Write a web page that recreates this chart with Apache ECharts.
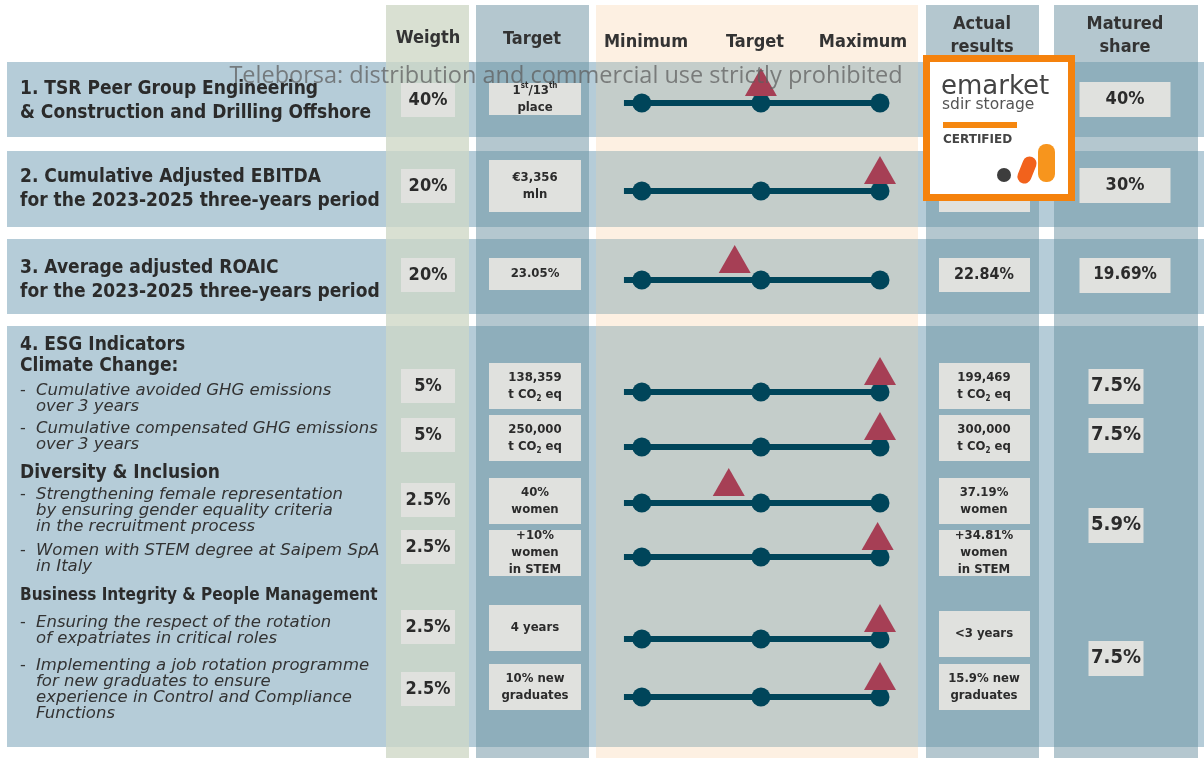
<!DOCTYPE html>
<html>
<head>
<meta charset="utf-8">
<script src="https://cdn.jsdelivr.net/npm/echarts@6/dist/echarts.min.js"></script>
<style>
html, body { margin: 0; padding: 0; background: #fff; }
#main { width: 1204px; height: 758px; }
</style>
</head>
<body>
<div id="main"></div>
<script>
// ---- dati ----
var kpiTitles = [
    ['1. TSR Peer Group Engineering', '& Construction and Drilling Offshore'],
    ['2. Cumulative Adjusted EBITDA', 'for the 2023-2025 three-years period'],
    ['3. Average adjusted ROAIC', 'for the 2023-2025 three-years period']
];
var esgTitle = '4. ESG Indicators';
var esgGroups = ['Climate Change:', 'Diversity & Inclusion', 'Business Integrity & People Management'];
var esgItems = [
    ['Cumulative avoided GHG emissions', 'over 3 years'],
    ['Cumulative compensated GHG emissions', 'over 3 years'],
    ['Strengthening female representation', 'by ensuring gender equality criteria', 'in the recruitment process'],
    ['Women with STEM degree at Saipem SpA', 'in Italy'],
    ['Ensuring the respect of the rotation', 'of expatriates in critical roles'],
    ['Implementing a job rotation programme', 'for new graduates to ensure', 'experience in Control and Compliance', 'Functions']
];
var headers = ['Weigth', 'Target', 'Minimum', 'Target', 'Maximum', 'Actual\nresults', 'Matured\nshare'];
var weights = ['40%', '20%', '20%', '5%', '5%', '2.5%', '2.5%', '2.5%', '2.5%'];
var targets = ['{n|1}{s|st}{n|/13}{s|th}\n{n|place}', '€3,356\nmln', '23.05%', '{n|138,359}\n{n|t CO}{b|2}{n| eq}',
    '{n|250,000}\n{n|t CO}{b|2}{n| eq}', '40%\nwomen', '+10%\nwomen\nin STEM', '4 years', '10% new\ngraduates'];
var actuals = ['', '', '22.84%', '{n|199,469}\n{n|t CO}{b|2}{n| eq}', '{n|300,000}\n{n|t CO}{b|2}{n| eq}',
    '37.19%\nwomen', '+34.81%\nwomen\nin STEM', '<3 years', '15.9% new\ngraduates'];
var matured = ['40%', '30%', '19.69%', '7.5%', '7.5%', '5.9%', '7.5%'];
// 0 = minimum, 1 = target, 2 = maximum
var scalePoints = [0, 1, 2];
var achieved = [1, 2, 0.78, 2, 2, 0.73, 1.98, 2, 2];

// ---- layout ----
var W = 1204, H = 758;
var rowBands = [[62, 137], [151, 227], [239, 314], [326, 747]];
var cols = [
    { x0: 386, x1: 469, out: '#d9e0d2', inn: '#c8d5cb' },
    { x0: 476, x1: 589, out: '#b4c7cf', inn: '#8eaebb' },
    { x0: 596, x1: 918, out: '#fdf0e2', inn: '#c4cdca' },
    { x0: 926, x1: 1039, out: '#b4c7cf', inn: '#8fafbc' },
    { x0: 1054, x1: 1198, out: '#b4c7cf', inn: '#8fafbc' }
];
var rowY = [103, 191, 280, 392, 447, 503, 557, 639, 697];
var weightBoxY = [100, 186, 275, 386, 435, 500, 547, 627, 689];
var targetBox = [[99, 32], [186, 52], [274, 32], [386, 46], [438, 46], [501, 46], [553, 46], [628, 46], [687, 46]];
var actualBox = [[99, 32], [186, 52], [275, 34], [386, 46], [438, 46], [501, 46], [553, 46], [634, 46], [687, 46]];
var maturedBox = [[1125, 99, 91, 18], [1125, 185, 91, 18], [1125, 275, 91, 17], [1116, 386, 55, 20], [1116, 435, 55, 20], [1116, 525, 55, 20], [1116, 658, 55, 20]];
var titleY = [89, 177, 268];
var groupY = [366, 473, 596];
var itemY = [391, 429, 495, 551, 623, 666];
var headerPos = [[428, 38], [532, 39], [646, 42], [755, 42], [863, 42], [982, 36], [1125, 36]];

var TXT = '#2b2b2b';
var FONT = 'DejaVu Sans Condensed, DejaVu Sans, sans-serif';
var BOX = '#e0e1de';

function rect(x, y, w, h, fill, z) {
    return { type: 'rect', silent: true, z: z || 0, shape: { x: x, y: y, width: w, height: h }, style: { fill: fill } };
}
function text(x, y, str, size, opts) {
    opts = opts || {};
    var st = {
        text: str, fill: opts.fill || TXT, fontSize: size, fontFamily: opts.family || FONT,
        fontWeight: opts.weight || 'bold', fontStyle: opts.style || 'normal',
        align: opts.align || 'left', textAlign: opts.align || 'left',
        verticalAlign: 'middle', textVerticalAlign: 'middle',
        lineHeight: opts.lh || size + 2
    };
    if (opts.rich) st.rich = opts.rich;
    return { type: 'text', silent: true, z: opts.z || 2, x: x, y: y, style: st };
}
function boxRich(size) {
    return {
        n: { fontSize: size, fontWeight: 'bold', fontFamily: FONT, fill: TXT, lineHeight: size + 4 },
        s: { fontSize: 8, fontWeight: 'bold', fontFamily: FONT, fill: TXT, lineHeight: size + 4, verticalAlign: 'top' },
        b: { fontSize: 8, fontWeight: 'bold', fontFamily: FONT, fill: TXT, lineHeight: 8, verticalAlign: 'bottom' }
    };
}

var g = [];
// fasce delle righe
rowBands.forEach(function (b) { g.push(rect(7, b[0], W - 7, b[1] - b[0], '#b5ccd8', 0)); });
// colonne
cols.forEach(function (c) {
    g.push(rect(c.x0, 5, c.x1 - c.x0, H - 5, c.out, 0));
    rowBands.forEach(function (b) { g.push(rect(c.x0, b[0], c.x1 - c.x0, b[1] - b[0], c.inn, 1)); });
});
// intestazioni
headers.forEach(function (h, i) {
    g.push(text(headerPos[i][0], headerPos[i][1], h, 18, { align: 'center', lh: 23, fill: '#333' }));
});
// etichette a sinistra
kpiTitles.forEach(function (t, i) {
    t.forEach(function (line, j) { g.push(text(20, titleY[i] + j * 24, line, 19)); });
});
g.push(text(20, 345, esgTitle, 19));
esgGroups.forEach(function (t, i) { g.push(text(20, groupY[i], t, i < 2 ? 19 : 17)); });
esgItems.forEach(function (it, i) {
    g.push(text(20, itemY[i], '-', 16, { weight: 'normal', fill: '#333', family: 'DejaVu Sans, sans-serif' }));
    it.forEach(function (line, j) {
        g.push(text(36, itemY[i] + j * 16, line, 16.5,
            { weight: 'normal', style: 'italic', fill: '#333', family: 'DejaVu Sans, sans-serif' }));
    });
});
// box pesi
weights.forEach(function (w, i) {
    g.push(rect(401, weightBoxY[i] - 17, 54, 34, BOX, 2));
    g.push(text(428, weightBoxY[i], w, 18, { align: 'center', z: 3 }));
});
// box target e risultati
targets.forEach(function (t, i) {
    var b = targetBox[i];
    g.push(rect(489, b[0] - b[1] / 2, 92, b[1], BOX, 2));
    g.push(text(535, b[0], t, 13, { align: 'center', z: 3, lh: 17, rich: boxRich(13) }));
});
actuals.forEach(function (t, i) {
    var b = actualBox[i];
    var size = i < 3 ? 16 : 13;
    g.push(rect(939, b[0] - b[1] / 2, 91, b[1], BOX, 2));
    g.push(text(984, b[0], t, size, { align: 'center', z: 3, lh: 17, rich: boxRich(13) }));
});
matured.forEach(function (m, i) {
    var b = maturedBox[i];
    g.push(rect(b[0] - b[2] / 2, b[1] - 17, b[2], 35, BOX, 2));
    g.push(text(b[0], b[1], m, b[3], { align: 'center', z: 3 }));
});
// logo
g.push(rect(923, 55, 152, 146, '#f5820d', 20));
g.push(rect(930, 62, 138, 132, '#ffffff', 21));
g.push(text(941, 87, 'emarket', 26, { weight: 'normal', family: 'DejaVu Sans, sans-serif', fill: '#444', z: 22 }));
g.push(text(942, 105, 'sdir storage', 15.5, { weight: 'normal', family: 'DejaVu Sans, sans-serif', fill: '#555', z: 22 }));
g.push(rect(943, 122, 74, 6, '#f5870f', 22));
g.push(text(943, 140, 'CERTIFIED', 12, { family: 'DejaVu Sans, sans-serif', fill: '#444', z: 22 }));
g.push({ type: 'circle', silent: true, z: 22, shape: { cx: 1004, cy: 175, r: 7 }, style: { fill: '#3d3d3d' } });
g.push({ type: 'rect', silent: true, z: 22, x: 1027, y: 170, rotation: -0.38, shape: { x: -7, y: -14, width: 14, height: 28, r: 7 }, style: { fill: '#f2621c' } });
g.push({ type: 'rect', silent: true, z: 22, shape: { x: 1038, y: 144, width: 17, height: 38, r: 8 }, style: { fill: '#f7951d' } });
// filigrana
g.push(text(566, 76, 'Teleborsa: distribution and commercial use strictly prohibited', 23.5,
    { align: 'center', weight: 'normal', family: 'Open Sans, sans-serif', fill: 'rgba(95,95,95,0.75)', z: 30 }));

// ---- serie ----
var lineStart = -0.15;
var series = [];
rowY.forEach(function (y) {
    series.push({
        type: 'line', data: [[lineStart, y], [2, y]], symbol: 'none', silent: true,
        lineStyle: { width: 6, color: '#00455a' }, z: 3
    });
});
var dots = [];
rowY.forEach(function (y) { scalePoints.forEach(function (p) { dots.push([p, y]); }); });
series.push({
    type: 'scatter', data: dots, symbolSize: 19, silent: true, clip: false,
    itemStyle: { color: '#00455a', opacity: 1 }, z: 4
});
series.push({
    type: 'scatter', symbol: 'triangle', symbolSize: [32, 28], symbolOffset: [0, -21], silent: true, clip: false,
    data: achieved.map(function (a, i) { return [a, rowY[i]]; }),
    itemStyle: { color: '#a63f55', opacity: 1 }, z: 5
});

var myChart = echarts.init(document.getElementById('main'));
myChart.setOption({
    animation: false,
    grid: { left: 618, right: W - 880, top: 0, bottom: 0 },
    xAxis: { type: 'value', min: -0.2, max: 2, show: false },
    yAxis: { type: 'value', min: 0, max: H, inverse: true, show: false },
    graphic: { elements: g },
    series: series
});
</script>
</body>
</html>
